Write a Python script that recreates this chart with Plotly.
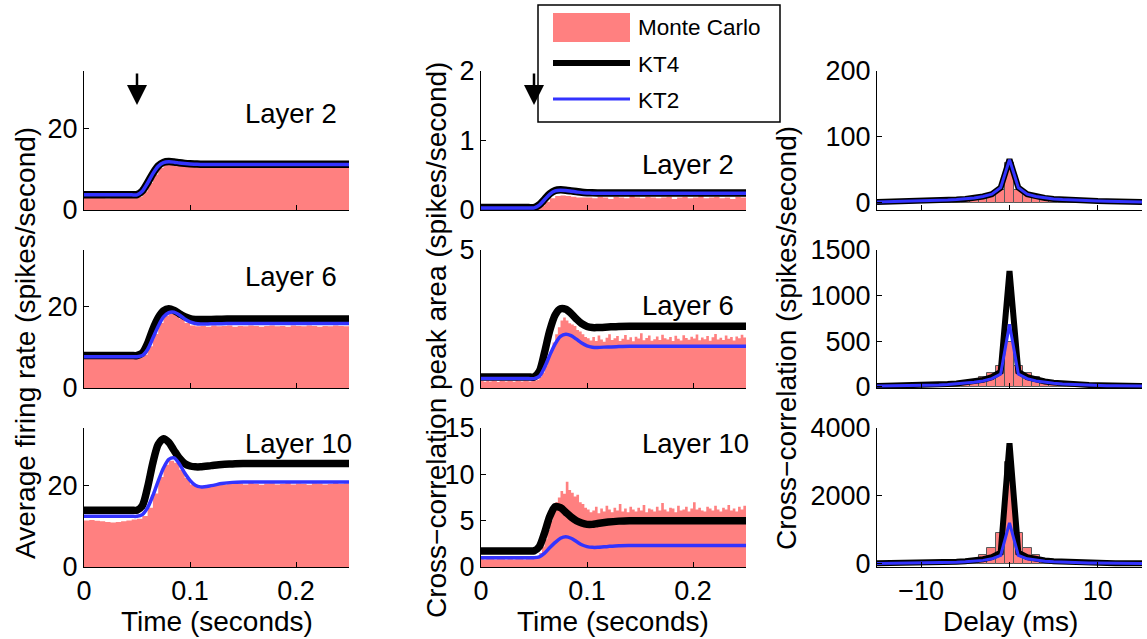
import numpy as np
import plotly.graph_objects as go

W, H = 1147, 639
SALMON = "#FF8080"
BLUE = "#3333FF"
FONT = "Liberation Sans, Arial, Helvetica, sans-serif"
FS = 27
FS_LAYER = 27.5
FS_TITLE = 28

# ---------------- data: time panels ----------------
t_kt = [0, 0.01, 0.02, 0.03, 0.04, 0.045, 0.05, 0.055, 0.06, 0.065, 0.07, 0.075, 0.08,
        0.085, 0.09, 0.095, 0.1, 0.105, 0.11, 0.12, 0.13, 0.14, 0.15, 0.2, 0.25]

rate_L2_kt4 = [3.75, 3.75, 3.75, 3.75, 3.75, 3.75, 3.75, 4.65, 6.65, 8.95, 10.75, 11.65, 11.85,
               11.75, 11.55, 11.4, 11.3, 11.25, 11.2, 11.2, 11.2, 11.2, 11.2, 11.2, 11.2]
rate_L2_kt2 = [3.7, 3.7, 3.7, 3.7, 3.7, 3.7, 3.7, 4.6, 6.6, 8.9, 10.7, 11.6, 11.8,
               11.7, 11.5, 11.35, 11.25, 11.2, 11.15, 11.15, 11.15, 11.15, 11.15, 11.15, 11.15]
rate_L6_kt4 = [8.0, 8.0, 8.0, 8.0, 8.0, 8.0, 8.0, 8.6, 11.0, 14.5, 17.3, 19.0, 19.5,
               19.1, 18.3, 17.6, 17.1, 16.9, 16.85, 16.9, 16.95, 17.0, 17.0, 17.0, 17.0]
rate_L6_kt2 = [7.7, 7.7, 7.7, 7.7, 7.7, 7.7, 7.7, 8.0, 9.5, 12.3, 15.2, 17.5, 18.6,
               18.7, 18.0, 17.0, 16.3, 15.9, 15.75, 15.8, 15.85, 15.9, 15.9, 15.9, 15.9]
rate_L10_kt4 = [13.9, 13.9, 13.9, 13.9, 13.9, 13.9, 13.9, 15.0, 19.5, 25.5, 30.0, 31.4, 30.5,
                28.5, 26.6, 25.3, 24.7, 24.5, 24.5, 24.8, 25.1, 25.2, 25.3, 25.3, 25.3]
rate_L10_kt2 = [12.4, 12.4, 12.4, 12.4, 12.4, 12.4, 12.4, 12.8, 14.5, 17.5, 21.0, 24.2, 26.3,
                26.7, 25.2, 23.0, 21.2, 20.0, 19.6, 19.9, 20.4, 20.7, 20.8, 20.8, 20.8]

area_L2_kt4 = [0.035, 0.035, 0.035, 0.035, 0.035, 0.035, 0.035, 0.075, 0.155, 0.235, 0.28, 0.29, 0.285,
               0.275, 0.265, 0.255, 0.25, 0.247, 0.245, 0.245, 0.245, 0.245, 0.245, 0.245, 0.245]
area_L2_kt2 = [0.03, 0.03, 0.03, 0.03, 0.03, 0.03, 0.03, 0.07, 0.15, 0.23, 0.275, 0.285, 0.28,
               0.27, 0.26, 0.25, 0.245, 0.242, 0.24, 0.24, 0.24, 0.24, 0.24, 0.24, 0.24]
area_L6_kt4 = [0.40, 0.40, 0.40, 0.40, 0.40, 0.40, 0.40, 0.6, 1.3, 2.1, 2.65, 2.87, 2.85,
               2.7, 2.5, 2.33, 2.23, 2.19, 2.19, 2.21, 2.23, 2.24, 2.24, 2.24, 2.24]
area_L6_kt2 = [0.34, 0.34, 0.34, 0.34, 0.34, 0.34, 0.34, 0.42, 0.75, 1.2, 1.6, 1.87, 1.95,
               1.9, 1.77, 1.63, 1.53, 1.48, 1.47, 1.49, 1.5, 1.51, 1.51, 1.51, 1.51]
area_L10_kt4 = [1.74, 1.74, 1.74, 1.74, 1.74, 1.74, 1.74, 2.2, 3.7, 5.5, 6.5, 6.4, 5.9,
                5.4, 5.0, 4.75, 4.6, 4.6, 4.7, 4.85, 4.95, 5.0, 5.0, 5.0, 5.0]
area_L10_kt2 = [1.01, 1.01, 1.01, 1.01, 1.01, 1.01, 1.01, 1.1, 1.5, 2.1, 2.65, 3.1, 3.26,
                3.1, 2.75, 2.4, 2.2, 2.12, 2.12, 2.22, 2.3, 2.32, 2.32, 2.32, 2.32]

# Monte Carlo histograms (bin width given per series)
mc_bin_coarse = 0.005
mc_bin_fine = 0.0025

rate_L2_mc = [3.0, 3.0, 3.1, 3.0, 2.9, 3.0, 3.0, 3.1, 3.0, 3.0,
              3.2, 4.5, 6.6, 8.7, 10.3, 11.1, 11.2, 11.0, 10.9, 10.8,
              10.8, 10.7, 10.8, 10.7, 10.8, 10.8, 10.7, 10.8, 10.8, 10.7,
              10.8, 10.7, 10.8, 10.8, 10.7, 10.8, 10.7, 10.8, 10.8, 10.7,
              10.8, 10.7, 10.8, 10.8, 10.7, 10.8, 10.8, 10.7, 10.8, 10.8]
rate_L6_mc = [7.4, 7.4, 7.3, 7.4, 7.5, 7.4, 7.3, 7.4, 7.4, 7.5,
              7.5, 8.2, 10.3, 13.3, 16.0, 17.8, 18.3, 18.0, 17.0, 16.0,
              15.4, 15.2, 15.3, 15.1, 15.4, 15.2, 15.3, 15.4, 15.1, 15.3,
              15.2, 15.4, 15.3, 15.1, 15.3, 15.4, 15.2, 15.3, 15.1, 15.4,
              15.3, 15.2, 15.4, 15.3, 15.1, 15.3, 15.2, 15.4, 15.3, 15.2]
rate_L10_mc = [11.4, 11.5, 11.3, 11.2, 11.0, 10.9, 11.0, 11.2, 11.4, 11.6,
               11.8, 12.5, 14.5, 18.0, 22.0, 25.0, 26.0, 25.5, 23.8, 21.8,
               20.2, 19.6, 19.6, 19.9, 20.1, 20.3, 20.2, 20.5, 20.3, 20.4,
               20.2, 20.6, 20.3, 20.1, 20.4, 20.5, 20.2, 20.3, 20.6, 20.2,
               20.4, 20.3, 20.1, 20.5, 20.4, 20.2, 20.3, 20.6, 20.3, 20.4]
area_L2_mc = [0.01, 0.01, 0.01, 0.01, 0.01, 0.01, 0.01, 0.01, 0.01, 0.01,
              0.02, 0.06, 0.12, 0.17, 0.20, 0.21, 0.20, 0.19, 0.18, 0.18,
              0.18, 0.17, 0.19, 0.18, 0.16, 0.19, 0.18, 0.17, 0.20, 0.18,
              0.17, 0.19, 0.18, 0.17, 0.18, 0.19, 0.16, 0.18, 0.19, 0.17,
              0.18, 0.20, 0.17, 0.18, 0.19, 0.17, 0.18, 0.16, 0.19, 0.18]
area_L6_mc = [0.25, 0.23, 0.26, 0.24, 0.27, 0.25, 0.22, 0.26, 0.25, 0.24,
              0.26, 0.25, 0.23, 0.27, 0.25, 0.24, 0.26, 0.25, 0.24, 0.26,
              0.27, 0.30, 0.40, 0.55, 0.80, 1.05, 1.35, 1.65, 1.95, 2.20,
              2.45, 2.55, 2.45, 2.35, 2.30, 2.25, 2.10, 2.05, 1.95, 1.85,
              1.80, 1.72, 1.85, 1.70, 1.90, 1.76, 1.68, 1.82, 1.95, 1.74,
              1.80, 1.88, 1.70, 1.78, 1.92, 1.75, 1.84, 1.69, 1.86, 1.79,
              1.98, 1.73, 1.81, 1.90, 1.71, 1.77, 1.87, 1.74, 1.93, 1.80,
              1.76, 1.85, 1.70, 1.89, 1.78, 1.72, 1.91, 1.81, 1.75, 1.86,
              1.79, 1.94, 1.73, 1.83, 1.77, 1.88, 1.71, 1.84, 1.96, 1.76,
              1.82, 1.74, 1.90, 1.78, 1.85, 1.72, 1.87, 1.80, 1.93, 1.83]
area_L10_mc = [0.9, 0.8, 1.0, 0.9, 1.1, 0.8, 0.9, 1.2, 0.9, 0.8,
               1.0, 0.9, 0.8, 1.1, 0.9, 1.0, 0.8, 0.9, 1.0, 0.9,
               0.95, 1.1, 1.5, 2.2, 3.0, 4.0, 5.0, 6.0, 7.0, 7.5,
               8.2, 7.9, 9.2, 8.3, 8.0, 7.6, 7.8, 7.0, 6.8, 6.4,
               6.2, 5.9, 6.1, 6.5, 5.8, 6.3, 6.0, 6.6, 6.2, 5.9,
               6.4, 6.1, 6.8, 6.0, 6.3, 5.9, 6.5, 6.2, 6.0, 6.4,
               6.1, 6.7, 5.9, 6.3, 6.2, 6.0, 6.5, 6.1, 6.9, 6.2,
               6.0, 6.4, 6.3, 5.9, 6.6, 6.1, 6.2, 6.5, 6.0, 6.3,
               7.0, 6.2, 6.4, 6.1, 6.0, 6.5, 6.3, 6.1, 6.6, 6.2,
               6.0, 6.4, 6.2, 6.7, 6.1, 6.3, 6.0, 6.5, 6.2, 6.6]

# ---------------- data: cross-correlation vs delay ----------------
delay_ms = list(range(-15, 16))
xc_L2_mc = [0.8, 0.9, 1.0, 1.2, 1.4, 1.6, 2.0, 2.4, 3.0, 3.8, 5.0, 6.5, 9.0, 12, 20, 60,
            20, 12, 9.0, 6.5, 5.0, 3.8, 3.0, 2.4, 2.0, 1.6, 1.4, 1.2, 1.0, 0.9, 0.8]
xc_L2_kt4 = [1.3, 1.5, 1.7, 1.9, 2.2, 2.5, 2.9, 3.4, 4.0, 4.8, 5.8, 7.3, 9.5, 13, 23, 66,
             23, 13, 9.5, 7.3, 5.8, 4.8, 4.0, 3.4, 2.9, 2.5, 2.2, 1.9, 1.7, 1.5, 1.3]
xc_L2_kt2 = [1.3, 1.5, 1.7, 1.9, 2.2, 2.5, 2.9, 3.4, 4.0, 4.8, 5.8, 7.3, 9.5, 13, 23, 65.5,
             23, 13, 9.5, 7.3, 5.8, 4.8, 4.0, 3.4, 2.9, 2.5, 2.2, 1.9, 1.7, 1.5, 1.3]
xc_L6_mc = [4, 5, 6, 7, 9, 11, 15, 20, 28, 38, 52, 75, 105, 146, 227, 487,
            227, 146, 105, 75, 52, 38, 28, 20, 15, 11, 9, 7, 6, 5, 4]
xc_L6_kt4 = [8, 9, 10, 12, 14, 17, 20, 24, 29, 36, 45, 57, 75, 105, 165, 1270,
             165, 105, 75, 57, 45, 36, 29, 24, 20, 17, 14, 12, 10, 9, 8]
xc_L6_kt2 = [7, 8, 9, 10, 12, 14, 17, 20, 25, 30, 38, 48, 63, 88, 139, 684,
             139, 88, 63, 48, 38, 30, 25, 20, 17, 14, 12, 10, 9, 8, 7]
xc_L10_mc = [6, 7, 9, 11, 14, 18, 24, 32, 45, 65, 95, 150, 250, 460, 900, 3000,
             900, 460, 250, 150, 95, 65, 45, 32, 24, 18, 14, 11, 9, 7, 6]
xc_L10_kt4 = [17, 19, 21, 24, 28, 32, 38, 45, 54, 66, 82, 105, 140, 200, 330, 3550,
              330, 200, 140, 105, 82, 66, 54, 45, 38, 32, 28, 24, 21, 19, 17]
xc_L10_kt2 = [12, 14, 16, 19, 22, 25, 29, 34, 41, 50, 62, 80, 105, 150, 250, 1210,
              250, 150, 105, 80, 62, 50, 41, 34, 29, 25, 22, 19, 16, 14, 12]

layer_names = ["Layer 2", "Layer 6", "Layer 10"]

# ---------------- geometry ----------------
cols_px = [(84, 349), (481, 746), (877, 1142)]
rows_px = [(71, 210), (250, 388), (428, 567)]
yranges = [[[0, 34], [0, 2], [-11, 200]],
           [[0, 34], [0, 5], [-14, 1500]],
           [[0, 34], [0, 15], [-90, 4000]]]
yticks = [[[0, 20], [0, 1, 2], [0, 100, 200]],
          [[0, 20], [0, 5], [0, 500, 1000, 1500]],
          [[0, 20], [0, 5, 10, 15], [0, 2000, 4000]]]
label_y = [[23.7, 0.66], [27.4, 3.0], [30.2, 13.35]]

mc_time = [[rate_L2_mc, area_L2_mc], [rate_L6_mc, area_L6_mc], [rate_L10_mc, area_L10_mc]]
kt4_time = [[rate_L2_kt4, area_L2_kt4], [rate_L6_kt4, area_L6_kt4], [rate_L10_kt4, area_L10_kt4]]
kt2_time = [[rate_L2_kt2, area_L2_kt2], [rate_L6_kt2, area_L6_kt2], [rate_L10_kt2, area_L10_kt2]]
mc_xc = [xc_L2_mc, xc_L6_mc, xc_L10_mc]
kt4_xc = [xc_L2_kt4, xc_L6_kt4, xc_L10_kt4]
kt2_xc = [xc_L2_kt2, xc_L6_kt2, xc_L10_kt2]

fig = go.Figure()
layout = dict(width=W, height=H, margin=dict(l=0, r=0, t=0, b=0, pad=0, autoexpand=False),
              paper_bgcolor="white", plot_bgcolor="white", showlegend=False,
              font=dict(family=FONT, size=FS, color="black"), bargap=0)
annotations = []
shapes = []

for r in range(3):
    for c in range(3):
        i = r * 3 + c + 1
        xa = "x" if i == 1 else f"x{i}"
        ya = "y" if i == 1 else f"y{i}"
        xkey = "xaxis" if i == 1 else f"xaxis{i}"
        ykey = "yaxis" if i == 1 else f"yaxis{i}"
        x0, x1 = cols_px[c]
        y0, y1 = rows_px[r]
        common = dict(showline=True, linecolor="black", linewidth=1, ticks="inside",
                      ticklen=5, tickwidth=1, tickcolor="black", showgrid=False,
                      zeroline=False, automargin=False,
                      tickfont=dict(size=FS, family=FONT, color="black"))
        if c < 2:
            xax = dict(common, domain=[x0 / W, x1 / W], range=[0, 0.25], anchor=ya,
                       tickvals=[0, 0.1, 0.2], ticktext=["0", "0.1", "0.2"],
                       showticklabels=(r == 2))
        else:
            xax = dict(common, domain=[x0 / W, x1 / W], range=[-15, 15], anchor=ya,
                       tickvals=[-10, 0, 10], ticktext=["\u221210", "0", "10"],
                       showticklabels=(r == 2))
        yax = dict(common, domain=[1 - y1 / H, 1 - y0 / H], range=yranges[r][c], anchor=xa,
                   tickvals=yticks[r][c], ticktext=[str(v) for v in yticks[r][c]])
        layout[xkey] = xax
        layout[ykey] = yax

        if c < 2:
            vals = mc_time[r][c]
            bw = mc_bin_coarse if len(vals) == 50 else mc_bin_fine
            xs = list(np.arange(len(vals) + 1) * bw)
            ys = list(vals) + [vals[-1]]
            fig.add_trace(go.Scatter(x=xs, y=ys, mode="lines", line=dict(width=0, color=SALMON, shape="hv"),
                                     fill="tozeroy", fillcolor=SALMON, xaxis=xa, yaxis=ya))
            fig.add_trace(go.Scatter(x=t_kt, y=kt4_time[r][c], mode="lines",
                                     line=dict(width=7.5, color="black", shape="spline", smoothing=0.8),
                                     xaxis=xa, yaxis=ya))
            fig.add_trace(go.Scatter(x=t_kt, y=kt2_time[r][c], mode="lines",
                                     line=dict(width=3.5, color=BLUE, shape="spline", smoothing=0.8),
                                     xaxis=xa, yaxis=ya))
            annotations.append(dict(x=0.15, y=label_y[r][c], xref=xa, yref=ya, text=layer_names[r],
                                    showarrow=False, xanchor="left", yanchor="middle",
                                    font=dict(size=FS_LAYER, family=FONT, color="black")))
        else:
            fig.add_trace(go.Bar(x=delay_ms, y=mc_xc[r], width=1,
                                 marker=dict(color=SALMON, line=dict(color="rgb(90,90,90)", width=1)),
                                 xaxis=xa, yaxis=ya))
            fig.add_trace(go.Scatter(x=delay_ms, y=kt4_xc[r], mode="lines",
                                     line=dict(width=6, color="black"), xaxis=xa, yaxis=ya))
            fig.add_trace(go.Scatter(x=delay_ms, y=kt2_xc[r], mode="lines",
                                     line=dict(width=3, color=BLUE), xaxis=xa, yaxis=ya))

# stimulus arrows
annotations.append(dict(x=0.05, y=25.7, xref="x", yref="y", text="", showarrow=True,
                        ax=0, ay=-33, arrowhead=2, arrowsize=1.6, arrowwidth=2.5, arrowcolor="black"))
annotations.append(dict(x=0.05, y=1.51, xref="x2", yref="y2", text="", showarrow=True,
                        ax=0, ay=-33, arrowhead=2, arrowsize=1.6, arrowwidth=2.5, arrowcolor="black"))

# axis titles
def ann_paper(xp, yp, text, angle=0, size=FS_TITLE):
    annotations.append(dict(x=xp / W, y=1 - yp / H, xref="paper", yref="paper", text=text,
                            showarrow=False, xanchor="center", yanchor="middle", textangle=angle,
                            font=dict(size=size, family=FONT, color="black")))

ann_paper(25, 343, "Average firing rate (spikes/second)", -90)
ann_paper(436, 340, "Cross\u2212correlation peak area (spikes/second)", -90)
ann_paper(786, 338, "Cross\u2212correlation (spikes/second)", -90)
ann_paper(217, 621, "Time (seconds)")
ann_paper(613, 621, "Time (seconds)")
ann_paper(1010, 621, "Delay (ms)")

# manual legend
LFS = 22.5
shapes.append(dict(type="rect", xref="paper", yref="paper", x0=538 / W, x1=780 / W,
                   y0=1 - 122 / H, y1=1 - 5 / H, line=dict(color="black", width=1.5), fillcolor="white"))
shapes.append(dict(type="rect", xref="paper", yref="paper", x0=553 / W, x1=630 / W,
                   y0=1 - 42 / H, y1=1 - 13 / H, line=dict(width=0), fillcolor=SALMON))
shapes.append(dict(type="line", xref="paper", yref="paper", x0=553 / W, x1=630 / W,
                   y0=1 - 63 / H, y1=1 - 63 / H, line=dict(color="black", width=6)))
shapes.append(dict(type="line", xref="paper", yref="paper", x0=553 / W, x1=630 / W,
                   y0=1 - 99 / H, y1=1 - 99 / H, line=dict(color=BLUE, width=3)))
for ty, txt in [(28, "Monte Carlo"), (64, "KT4"), (100, "KT2")]:
    annotations.append(dict(x=636 / W, y=1 - ty / H, xref="paper", yref="paper", text=txt,
                            showarrow=False, xanchor="left", yanchor="middle",
                            font=dict(size=LFS, family=FONT, color="black")))

layout["annotations"] = annotations
layout["shapes"] = shapes
fig.update_layout(**layout)
fig.write_html("out.html")
